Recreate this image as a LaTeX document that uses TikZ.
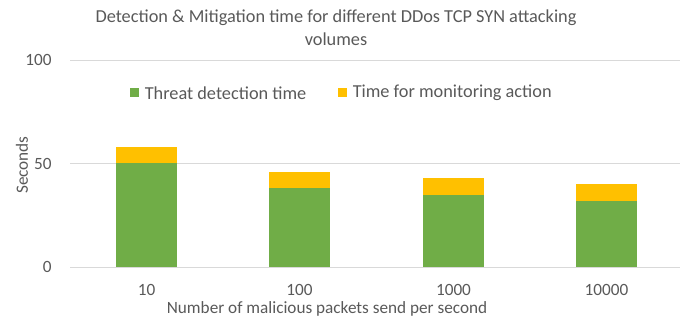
\documentclass[tikz,border=0pt]{standalone}
\usepackage{fontspec}
\setmainfont{Carlito}
\usetikzlibrary{positioning}
\definecolor{gridgray}{HTML}{D9D9D9}
\definecolor{textgray}{HTML}{595959}
\definecolor{detgreen}{HTML}{70AD47}
\definecolor{monyellow}{HTML}{FFC000}
\tikzset{every picture/.style={line width=0.75pt}}
\tikzset{
  ticklabel/.style={anchor=east,inner sep=0pt},
  catlabel/.style={inner sep=0pt},
  legendbox/.style={minimum size=9pt,inner sep=0pt}
}

\begin{document}
\begin{tikzpicture}[x=1pt,y=-1pt,font=\fontsize{17.2}{20}\selectfont,text=textgray]
    \useasboundingbox (0,0) rectangle (688,320);

    % 网格线 (0, 50, 100)
    \draw[gridgray] (70,267) -- (680,267);
    \draw[gridgray] (70,163.5) -- (680,163.5);
    \draw[gridgray] (70,60) -- (680,60);

    % 纵轴刻度
    \node[ticklabel] (y0) at (52,267) {0};
    \node[ticklabel] (y50) at (52,163.5) {50};
    \node[ticklabel] (y100) at (52,60) {100};

    % 柱子: 检测时间 + 监控动作时间
    \fill[detgreen] (116,267) rectangle (177,{267-2.07*50});
    \fill[monyellow] (116,{267-2.07*50}) rectangle (177,{267-2.07*58});

    \fill[detgreen] (269,267) rectangle (330,{267-2.07*38});
    \fill[monyellow] (269,{267-2.07*38}) rectangle (330,{267-2.07*46});

    \fill[detgreen] (423,267) rectangle (484,{267-2.07*35});
    \fill[monyellow] (423,{267-2.07*35}) rectangle (484,{267-2.07*43});

    \fill[detgreen] (576,267) rectangle (637,{267-2.07*32});
    \fill[monyellow] (576,{267-2.07*32}) rectangle (637,{267-2.07*40});

    % 横轴分类
    \node[catlabel] (c10) at (146.5,290) {10};
    \node[catlabel] (c100) at (299.5,290) {100};
    \node[catlabel] (c1000) at (453.5,290) {1000};
    \node[catlabel] (c10000) at (606.5,290) {10000};

    % 轴标题
    \node[inner sep=0pt] (xtitle) at (327,309) {Number of malicious packets send per second};
    \node[inner sep=0pt,rotate=90] (ytitle) at (22,165) {Seconds};

    % 图标题
    \node[align=center,inner sep=0pt,font=\fontsize{18.3}{23}\selectfont] (title) at (336,28)
        {Detection \& Mitigation time for different DDos TCP SYN attacking\\volumes};

    % 图例
    \node[legendbox,fill=detgreen] (lgreen) at (134.5,93) {};
    \node[anchor=west,inner sep=0pt,right=5pt of lgreen,font=\fontsize{18.3}{22}\selectfont] (lgreentext) {Threat detection time};
    \node[legendbox,fill=monyellow] (lyellow) at (342.5,93) {};
    \node[anchor=west,inner sep=0pt,right=5pt of lyellow,font=\fontsize{18.3}{22}\selectfont] (lyellowtext) {Time for monitoring action};
\end{tikzpicture}
\end{document}
